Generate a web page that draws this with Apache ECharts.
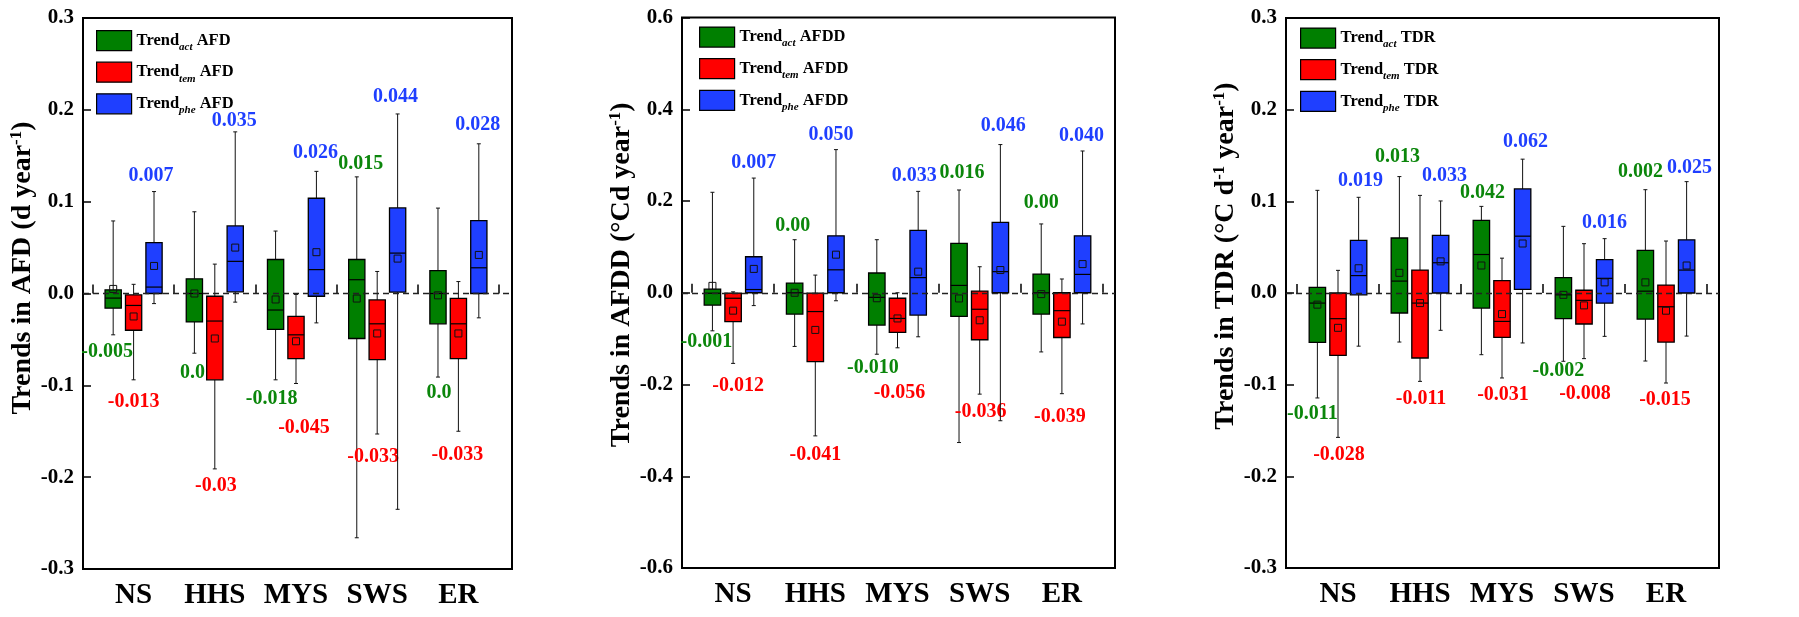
<!DOCTYPE html>
<html><head><meta charset="utf-8">
<script src="https://cdn.jsdelivr.net/npm/echarts@6/dist/echarts.min.js"></script>
<style>html,body{margin:0;padding:0;background:#fff}#c{width:1799px;height:617px}</style>
</head><body><div id="c"></div>
<script>
// ---------------- DATA ----------------
const categories = ['NS', 'HHS', 'MYS', 'SWS', 'ER'];
// each row: [lower whisker, Q1, median, Q3, upper whisker, mean]
const afdAct = [[-0.045,-0.016,-0.005,0.004,0.079,0.005],[-0.065,-0.031,0.0,0.016,0.089,0.0],[-0.094,-0.039,-0.018,0.037,0.068,-0.0065],[-0.266,-0.049,0.015,0.037,0.127,-0.0055],[-0.091,-0.033,0.0,0.025,0.093,-0.002]];
const afdTem = [[-0.094,-0.040,-0.013,-0.0015,0.010,-0.025],[-0.191,-0.094,-0.030,-0.003,0.032,-0.049],[-0.098,-0.071,-0.045,-0.025,-0.001,-0.052],[-0.153,-0.072,-0.033,-0.007,0.024,-0.0435],[-0.150,-0.071,-0.033,-0.0054,0.013,-0.0435]];
const afdPhe = [[-0.011,0.0,0.007,0.0555,0.111,0.030],[-0.0094,0.0018,0.035,0.0736,0.176,0.050],[-0.032,-0.003,0.026,0.1037,0.133,0.045],[-0.235,0.0015,0.044,0.0932,0.1955,0.038],[-0.0265,0.0,0.028,0.0794,0.163,0.042]];
const afddAct = [[-0.083,-0.027,-0.001,0.008,0.219,0.015],[-0.117,-0.0465,0.0,0.021,0.1156,0.0],[-0.134,-0.0705,-0.010,0.043,0.1156,-0.012],[-0.3265,-0.0516,0.016,0.1076,0.224,-0.0124],[-0.129,-0.0465,0.0,0.0407,0.150,-0.003]];
const afddTem = [[-0.154,-0.063,-0.012,-0.001,0.002,-0.039],[-0.312,-0.150,-0.041,-0.001,0.0385,-0.081],[-0.120,-0.0865,-0.056,-0.012,0.0,-0.056],[-0.221,-0.1025,-0.036,0.0036,0.0567,-0.060],[-0.220,-0.0975,-0.039,0.0,0.030,-0.063]];
const afddPhe = [[-0.028,0.0,0.007,0.0785,0.250,0.052],[-0.0175,0.0,0.050,0.124,0.312,0.083],[-0.096,-0.0487,0.033,0.136,0.221,0.046],[-0.279,0.0,0.046,0.1535,0.323,0.0495],[-0.068,0.0,0.040,0.124,0.309,0.0625]];
const tdrAct = [[-0.1145,-0.0538,-0.011,0.0062,0.112,-0.0127],[-0.0535,-0.0218,0.013,0.060,0.127,0.022],[-0.0673,-0.0164,0.042,0.0793,0.0945,0.030],[-0.0745,-0.028,-0.002,0.0167,0.0727,-0.002],[-0.0742,-0.0284,0.002,0.0465,0.1127,0.0116]];
const tdrTem = [[-0.1575,-0.068,-0.028,0.0,0.0247,-0.038],[-0.0964,-0.0709,-0.011,0.025,0.1065,-0.011],[-0.0927,-0.0484,-0.031,0.0135,0.038,-0.023],[-0.0716,-0.0338,-0.008,0.003,0.0538,-0.0135],[-0.0982,-0.0535,-0.015,0.0087,0.0567,-0.0193]];
const tdrPhe = [[-0.058,-0.002,0.019,0.0575,0.1044,0.027],[-0.0407,0.0,0.033,0.0629,0.1004,0.0345],[-0.0545,0.004,0.062,0.1135,0.146,0.054],[-0.0473,-0.011,0.016,0.0364,0.0593,0.0116],[-0.047,0.0,0.025,0.058,0.1215,0.030]];
// median labels as printed
const afdLabels = [['-0.005','0.0','-0.018','0.015','0.0'],['-0.013','-0.03','-0.045','-0.033','-0.033'],['0.007','0.035','0.026','0.044','0.028']];
const afddLabels = [['-0.001','0.00','-0.010','0.016','0.00'],['-0.012','-0.041','-0.056','-0.036','-0.039'],['0.007','0.050','0.033','0.046','0.040']];
const tdrLabels = [['-0.011','0.013','0.042','-0.002','0.002'],['-0.028','-0.011','-0.031','-0.008','-0.015'],['0.019','0.033','0.062','0.016','0.025']];
// axis [min, max, interval]
const afdAxis = [-0.3, 0.3, 0.1];
const afddAxis = [-0.6, 0.6, 0.2];
const tdrAxis = [-0.3, 0.3, 0.1];
const trendKinds = ['act', 'tem', 'phe'];

// ---------------- LAYOUT / STYLE ----------------
const F = '"Liberation Serif", "Times New Roman", serif';
const COLORS = ['#007f00', '#ff0000', '#1f3fff'];
const TEXTCOL = ['#0b860b', '#ff0000', '#1f3fff'];
const OFFS = [-0.2515, 0, 0.2515];
const BOXW = 0.2;
// label nudges [dx, dy] in px: dy<0 -> above upper whisker, dy>0 -> below lower whisker
const afdNudge = [[[-6,17],[-2,20],[-4,19],[4,-13],[1,16]],[[0,22],[1,17],[8,44],[-4,23],[-1,24]],[[-3,-16],[-1,-11],[-1,-19],[-2,-17],[-1,-19]]];
const afddNudge = [[[-6,11],[-2,-14],[-4,14],[3,-17],[0,-21]],[[5,22],[0,19],[2,45],[1,18],[-2,23]],[[0,-15],[-5,-15],[-4,-16],[3,-19],[-1,-15]]];
const tdrNudge = [[[-5,16],[-2,-20],[1,-14],[-5,10],[-5,-18]],[[1,17],[1,17],[1,17],[1,35],[-1,17]],[[2,-16],[4,-25],[3,-17],[0,-16],[3,-14]]];

const PANELS = [
  {tag:'AFD', axis:afdAxis, series:[afdAct,afdTem,afdPhe], labels:afdLabels, nudge:afdNudge,
   frame:{left:83, top:18, width:429, height:551}, data:{left:93, width:406},
   name:'{m|Trends in AFD (d year}{s|-1}{m|)}', namePad:51, nameGap:42, legend:{left:96, top:30}},
  {tag:'AFDD', axis:afddAxis, series:[afddAct,afddTem,afddPhe], labels:afddLabels, nudge:afddNudge,
   frame:{left:682, top:17.5, width:433, height:550.5}, data:{left:692, width:411},
   name:'{m|Trends in AFDD (°Cd year}{s|-1}{m|)}', namePad:36, nameGap:42, legend:{left:699, top:26.5}},
  {tag:'TDR', axis:tdrAxis, series:[tdrAct,tdrTem,tdrPhe], labels:tdrLabels, nudge:tdrNudge,
   frame:{left:1286, top:18, width:433, height:550}, data:{left:1297, width:410},
   name:'{m|Trends in TDR (°C d}{s|-1}{m| year}{s|-1}{m|)}', namePad:74, nameGap:45, legend:{left:1300, top:27.5}}
];

function makeRender(k, labels, nudge) {
  return function (params, api) {
    const i = api.value(0);
    const band = api.size([1, 0])[0];
    const cx = api.coord([i, 0])[0] + OFFS[k] * band;
    const hw = BOXW * band / 2;
    const Y = j => api.coord([i, api.value(j)])[1];
    const yl = Y(1), q1 = Y(2), md = Y(3), q3 = Y(4), yh = Y(5), mn = Y(6);
    const wl = {stroke: '#111', lineWidth: 1};
    const nd = nudge[k][i];
    const ly = (nd[1] < 0 ? yh : yl) + nd[1];
    const ms = 3.5;
    return {
      type: 'group',
      children: [
        {type: 'line', shape: {x1: cx, y1: q1, x2: cx, y2: yl}, style: wl},
        {type: 'line', shape: {x1: cx, y1: q3, x2: cx, y2: yh}, style: wl},
        {type: 'line', shape: {x1: cx - 2, y1: yl, x2: cx + 2, y2: yl}, style: wl},
        {type: 'line', shape: {x1: cx - 2, y1: yh, x2: cx + 2, y2: yh}, style: wl},
        {type: 'rect', shape: {x: cx - hw, y: q3, width: 2 * hw, height: q1 - q3},
         style: {fill: COLORS[k], stroke: '#000', lineWidth: 1.3}},
        {type: 'line', shape: {x1: cx - hw, y1: md, x2: cx + hw, y2: md}, style: {stroke: '#000', lineWidth: 1.2}},
        {type: 'rect', shape: {x: cx - ms, y: mn - ms, width: 2 * ms, height: 2 * ms},
         style: {fill: 'none', stroke: '#111', lineWidth: 1}},
        {type: 'text', x: cx + nd[0], y: ly,
         style: {text: labels[k][i], fill: TEXTCOL[k], fontFamily: F, fontWeight: 'bold', fontSize: 20,
                 align: 'center', verticalAlign: 'middle'}}
      ]
    };
  };
}

const grid = [], xAxis = [], yAxis = [], series = [], legend = [];
PANELS.forEach((p, pi) => {
  const fi = 2 * pi, di = 2 * pi + 1;
  grid.push({left: p.frame.left, top: p.frame.top, width: p.frame.width, height: p.frame.height,
             show: true, borderColor: '#000', borderWidth: 2, backgroundColor: 'transparent'});
  grid.push({left: p.data.left, top: p.frame.top, width: p.data.width, height: p.frame.height, show: false});
  xAxis.push({gridIndex: fi, type: 'value', min: 0, max: 1, show: false});
  xAxis.push({gridIndex: di, type: 'category', data: categories, boundaryGap: true,
    axisLine: {show: false},
    axisTick: {show: true, inside: true, length: 9, lineStyle: {color: '#000', width: 1.5}},
    axisLabel: {interval: 0, margin: 12, color: '#000', fontFamily: F, fontWeight: 'bold', fontSize: 29},
    splitLine: {show: false}});
  yAxis.push({gridIndex: fi, type: 'value', min: p.axis[0], max: p.axis[1], interval: p.axis[2],
    axisLine: {show: false},
    axisTick: {show: true, inside: true, length: 8, lineStyle: {color: '#000', width: 1.5}},
    axisLabel: {margin: 9, color: '#000', fontFamily: F, fontWeight: 'bold', fontSize: 21,
                formatter: v => v.toFixed(1)},
    splitLine: {show: false},
    name: p.name, nameLocation: 'middle', nameGap: p.nameGap,
    nameTextStyle: {color: '#000', fontFamily: F, fontWeight: 'bold', fontSize: 28, padding: [0, 0, 0, p.namePad],
      rich: {m: {color: '#000', fontFamily: F, fontWeight: 'bold', fontSize: 28, lineHeight: 30},
             s: {color: '#000', fontFamily: F, fontWeight: 'bold', fontSize: 17, lineHeight: 17, verticalAlign: 'top'}}}});
  yAxis.push({gridIndex: di, type: 'value', min: p.axis[0], max: p.axis[1], interval: p.axis[2], show: false});
  series.push({type: 'line', xAxisIndex: fi, yAxisIndex: fi, data: [], silent: true, z: 1,
    markLine: {silent: true, symbol: 'none', label: {show: false},
      lineStyle: {color: '#222', type: [6, 4], width: 1.3}, data: [{yAxis: 0}]}});
  const names = [];
  trendKinds.forEach((kind, k) => {
    const nm = kind + ' ' + p.tag;
    names.push(nm);
    series.push({type: 'custom', name: nm, xAxisIndex: di, yAxisIndex: di, z: 3, clip: false,
      itemStyle: {color: COLORS[k]},
      data: p.series[k].map((r, i) => [i].concat(r)),
      encode: {x: 0, y: [1, 2, 3, 4, 5, 6]},
      renderItem: makeRender(k, p.labels, p.nudge)});
  });
  legend.push({orient: 'vertical', left: p.legend.left, top: p.legend.top, padding: 0,
    itemWidth: 35, itemHeight: 20, itemGap: 9, icon: 'rect', selectedMode: false, data: names,
    itemStyle: {borderColor: '#000', borderWidth: 1.2},
    formatter: n => { const a = n.split(' '); return '{m|Trend}{s|' + a[0] + '}{m| ' + a[1] + '}'; },
    textStyle: {rich: {
      m: {color: '#000', fontFamily: F, fontWeight: 'bold', fontSize: 16.5, lineHeight: 24},
      s: {color: '#000', fontFamily: F, fontWeight: 'bold', fontStyle: 'italic', fontSize: 11, lineHeight: 11, verticalAlign: 'bottom'}}}});
});

const chart = echarts.init(document.getElementById('c'), null, {renderer: 'canvas'});
chart.setOption({backgroundColor: '#fff', animation: false, grid, xAxis, yAxis, series, legend});
</script>
</body></html>
